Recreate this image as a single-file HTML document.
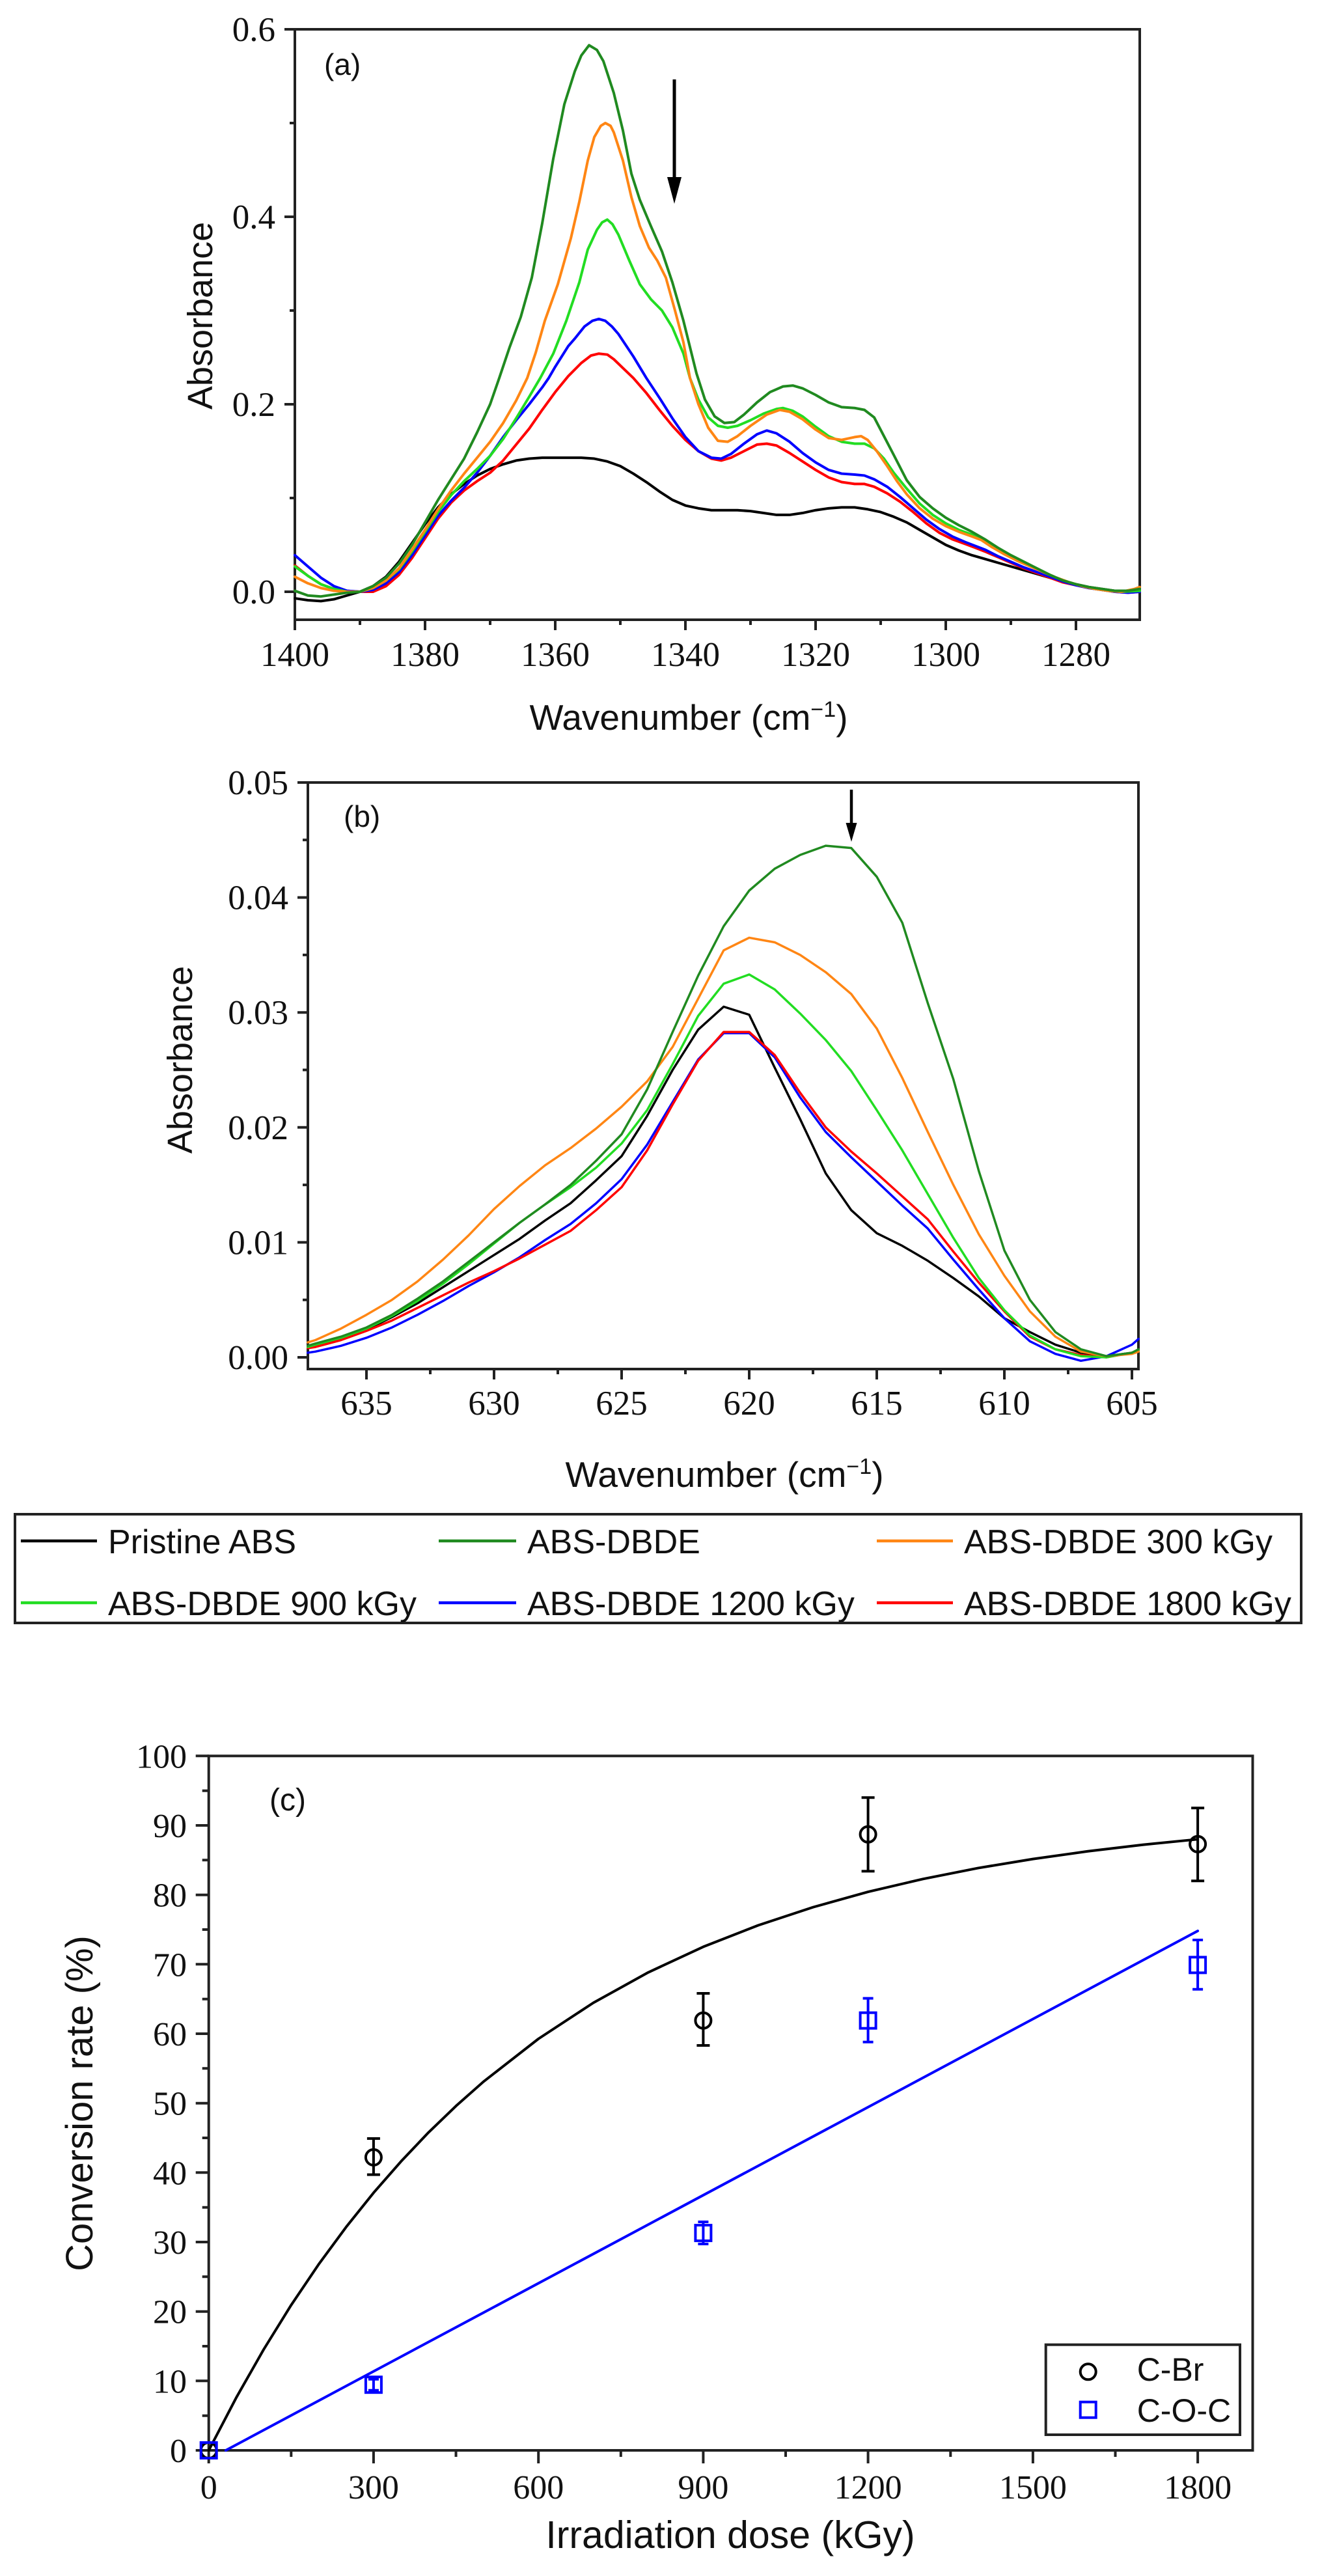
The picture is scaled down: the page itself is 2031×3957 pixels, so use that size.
<!DOCTYPE html>
<html><head><meta charset="utf-8"><style>html,body{margin:0;padding:0;background:#fff}svg{display:block}</style></head>
<body>
<svg width="2031" height="3957" viewBox="0 0 2031 3957" xmlns="http://www.w3.org/2000/svg">
<rect width="2031" height="3957" fill="#fff"/>
<defs><style>
.c{fill:none;stroke-width:4;stroke-linejoin:round;stroke-linecap:round;vector-effect:non-scaling-stroke}
.t{font-family:"Liberation Serif",serif;font-size:53px;fill:#111}
.s{font-family:"Liberation Sans",Arial,sans-serif;fill:#111}
</style></defs>

<!-- ================= Panel (a) ================= -->
<g stroke="#222" stroke-width="4" fill="none">
<rect x="453" y="45" width="1298" height="907"/>
<path d="M437,909H453M437,621H453M437,333H453M437,45H453M445,765H453M445,477H453M445,189H453
M453,952V968M653,952V968M853,952V968M1053,952V968M1253,952V968M1453,952V968M1653,952V968
M553,952V960M753,952V960M953,952V960M1153,952V960M1353,952V960M1553,952V960"/>
</g>
<g class="t" text-anchor="end">
<text x="423" y="63">0.6</text><text x="423" y="351">0.4</text><text x="423" y="639">0.2</text><text x="423" y="927">0.0</text>
</g>
<g class="t" text-anchor="middle">
<text x="453" y="1023">1400</text><text x="653" y="1023">1380</text><text x="853" y="1023">1360</text><text x="1053" y="1023">1340</text><text x="1253" y="1023">1320</text><text x="1453" y="1023">1300</text><text x="1653" y="1023">1280</text>
</g>
<text class="s" font-size="54" text-anchor="middle" transform="translate(326,485) rotate(-90)">Absorbance</text>
<text class="s" font-size="55" text-anchor="middle" x="1058" y="1121">Wavenumber (cm<tspan font-size="34" dy="-20">−1</tspan><tspan dy="20">)</tspan></text>
<text class="s" font-size="46" x="498" y="115">(a)</text>
<path d="M1036,122V276" stroke="#000" stroke-width="5"/>
<path d="M1025,272H1047L1036,313Z" fill="#000"/>

<g transform="translate(14453,909) scale(-10,-1440)">
<polyline class="c" stroke="#000" points="1400,-0.007 1398,-0.009 1396,-0.010 1394,-0.008 1392,-0.004 1390,0 1388,0.006 1386,0.016 1384,0.032 1382,0.052 1380,0.072 1378,0.090 1376,0.104 1374,0.115 1372,0.124 1370,0.131 1368,0.136 1366,0.140 1364,0.142 1362,0.143 1360,0.143 1358,0.143 1356,0.143 1354,0.142 1352,0.139 1350,0.134 1348,0.126 1346,0.117 1344,0.107 1342,0.098 1340,0.092 1338,0.089 1336,0.087 1334,0.087 1332,0.087 1330,0.086 1328,0.084 1326,0.082 1324,0.082 1322,0.084 1320,0.087 1318,0.089 1316,0.090 1314,0.090 1312,0.088 1310,0.085 1308,0.080 1306,0.074 1304,0.066 1302,0.058 1300,0.050 1298,0.044 1296,0.039 1294,0.035 1292,0.031 1290,0.027 1288,0.023 1286,0.019 1284,0.015 1282,0.011 1280,0.008 1278,0.005 1276,0.003 1274,0.001 1272,0 1270.2,0.001"/>
<polyline class="c" stroke="#ff0000" points="1400,0.028 1398,0.017 1396,0.008 1394,0.003 1392,0.001 1390,0 1388,0 1386,0.006 1384,0.018 1382,0.036 1380,0.057 1378,0.078 1376,0.095 1374,0.108 1372,0.118 1370,0.127 1368,0.140 1366,0.157 1364,0.174 1362,0.194 1360,0.213 1358,0.230 1356,0.244 1354.5,0.252 1353.3,0.254 1352,0.253 1351,0.248 1349.5,0.238 1348,0.228 1346,0.212 1344,0.194 1342,0.177 1340,0.162 1338,0.150 1336,0.142 1334.5,0.140 1333,0.143 1331,0.150 1329,0.157 1327.5,0.158 1326,0.156 1324,0.148 1322,0.139 1320,0.130 1318,0.122 1316,0.117 1314,0.115 1312.5,0.115 1311,0.112 1309,0.105 1307,0.096 1305,0.085 1303,0.073 1301,0.063 1299,0.056 1297,0.051 1295.5,0.047 1294,0.043 1292,0.037 1290,0.031 1288,0.025 1286,0.020 1284,0.015 1282,0.010 1280,0.007 1278,0.004 1276,0.002 1274,0 1272,-0.001 1270.2,0"/>
<polyline class="c" stroke="#0000ff" points="1400,0.039 1398,0.027 1396,0.015 1394,0.006 1392,0.001 1390,0 1388,0.002 1386,0.009 1384,0.021 1382,0.039 1380,0.060 1378,0.081 1376,0.097 1374,0.111 1372,0.127 1370,0.145 1368,0.165 1366,0.183 1364,0.200 1362,0.218 1361,0.228 1360,0.240 1358,0.262 1357,0.270 1355.5,0.283 1354.3,0.289 1353.3,0.291 1352.3,0.289 1351.3,0.283 1350.3,0.275 1348,0.251 1346,0.228 1344,0.207 1342,0.185 1340,0.165 1338,0.150 1336,0.143 1334.5,0.142 1333,0.147 1331,0.158 1329,0.168 1327.5,0.172 1326,0.169 1324,0.160 1322,0.148 1320,0.138 1318,0.130 1316,0.126 1314,0.125 1312.5,0.124 1311,0.120 1309,0.112 1307,0.101 1305,0.089 1303,0.077 1301,0.067 1299,0.059 1297,0.053 1295.5,0.049 1294,0.045 1292,0.038 1290,0.032 1288,0.026 1286,0.021 1284,0.016 1282,0.011 1280,0.007 1278,0.004 1276,0.002 1274,0 1272,-0.001 1270.2,0"/>
<polyline class="c" stroke="#22dd22" points="1400,0.027 1398,0.017 1396,0.008 1394,0.003 1392,0 1390,0 1388,0.004 1386,0.012 1384,0.024 1382,0.043 1380,0.064 1378,0.085 1376,0.103 1374,0.118 1372,0.131 1370,0.145 1368,0.163 1366,0.185 1364,0.208 1362.3,0.228 1360.3,0.254 1358.3,0.289 1356.3,0.330 1355,0.365 1353.6,0.386 1352.8,0.394 1352,0.397 1351.2,0.392 1350.3,0.381 1348.6,0.353 1347,0.328 1345.3,0.312 1343.6,0.300 1342,0.282 1340.3,0.254 1339.3,0.228 1338,0.205 1336.5,0.186 1335,0.177 1333.5,0.175 1332,0.177 1330,0.183 1328,0.190 1326,0.195 1325,0.196 1323.5,0.193 1322,0.187 1320,0.176 1318,0.166 1316,0.160 1314,0.158 1312.5,0.158 1311,0.153 1309.5,0.142 1308,0.127 1306,0.110 1304,0.094 1302,0.082 1300,0.073 1298,0.066 1296,0.061 1294.5,0.057 1293,0.050 1291,0.042 1289,0.035 1287,0.028 1285,0.021 1283,0.015 1281,0.010 1279,0.006 1277,0.003 1275,0.001 1273,0 1270.2,0.001"/>
<polyline class="c" stroke="#ff8614" points="1400,0.016 1398,0.009 1396,0.004 1394,0.001 1392,0 1390,0 1388,0.004 1386,0.012 1384,0.025 1382,0.045 1380,0.066 1378,0.088 1376,0.108 1374,0.126 1372,0.143 1370,0.160 1368,0.180 1366,0.204 1364.3,0.228 1363,0.255 1361.6,0.289 1359.6,0.328 1357.6,0.377 1356.3,0.416 1355,0.460 1354,0.485 1353,0.497 1352.3,0.500 1351.5,0.497 1351,0.490 1349.6,0.460 1348.3,0.421 1347,0.390 1345.6,0.367 1344.3,0.353 1343,0.335 1341.6,0.300 1340.3,0.266 1339.3,0.228 1338,0.200 1336.5,0.175 1335,0.161 1333.5,0.160 1332,0.166 1330,0.177 1327.5,0.189 1325.5,0.194 1324,0.192 1322,0.184 1320,0.173 1318,0.164 1316,0.162 1314,0.165 1313,0.166 1312,0.162 1310.6,0.150 1309,0.134 1307.5,0.118 1306,0.104 1304,0.089 1302,0.078 1300,0.070 1298,0.064 1296,0.059 1294.5,0.055 1293,0.048 1291,0.040 1289,0.033 1287,0.027 1285,0.021 1283,0.015 1281,0.010 1279,0.006 1277,0.003 1275,0.001 1273,0 1271,0.003 1270.2,0.005"/>
<polyline class="c" stroke="#208a20" points="1400,0.001 1398,-0.004 1396,-0.005 1394,-0.003 1392,-0.001 1390,0 1388,0.006 1386,0.015 1384,0.030 1382,0.050 1380,0.074 1378,0.098 1376,0.120 1374,0.142 1372,0.170 1370,0.200 1368.6,0.228 1367,0.261 1365.3,0.293 1363.6,0.335 1362,0.393 1360.3,0.462 1358.6,0.520 1357,0.555 1356,0.572 1354.8,0.583 1353.6,0.578 1352.6,0.566 1351,0.532 1349.6,0.492 1348.3,0.446 1347,0.418 1345.3,0.390 1343.6,0.363 1342,0.330 1340.3,0.289 1338.3,0.233 1337,0.205 1335.5,0.187 1334,0.180 1332.5,0.181 1331,0.189 1329,0.202 1327,0.213 1325,0.219 1323.5,0.220 1322,0.217 1320,0.210 1318,0.202 1316,0.197 1314,0.196 1312.5,0.194 1311,0.186 1309.5,0.166 1308,0.146 1306,0.119 1304,0.101 1302,0.089 1300,0.079 1298,0.071 1296,0.064 1294,0.056 1292,0.047 1290,0.039 1288,0.032 1286,0.025 1284,0.018 1282,0.012 1280,0.008 1278,0.005 1276,0.003 1274,0.001 1272,0.001 1270.2,0.003"/>
</g>

<!-- ================= Panel (b) ================= -->
<g stroke="#222" stroke-width="4" fill="none">
<rect x="473" y="1202" width="1276" height="901"/>
<path d="M457,2085H473M457,1908.4H473M457,1731.8H473M457,1555.2H473M457,1378.6H473M457,1202H473
M465,1996.7H473M465,1820.1H473M465,1643.5H473M465,1466.9H473M465,1290.3H473
M563,2103V2119M759,2103V2119M955,2103V2119M1151,2103V2119M1347,2103V2119M1543,2103V2119M1739,2103V2119
M661,2103V2111M857,2103V2111M1053,2103V2111M1249,2103V2111M1445,2103V2111M1641,2103V2111"/>
</g>
<g class="t" text-anchor="end">
<text x="443" y="2103">0.00</text><text x="443" y="1926.4">0.01</text><text x="443" y="1749.8">0.02</text><text x="443" y="1573.2">0.03</text><text x="443" y="1396.6">0.04</text><text x="443" y="1220">0.05</text>
</g>
<g class="t" text-anchor="middle">
<text x="563" y="2173">635</text><text x="759" y="2173">630</text><text x="955" y="2173">625</text><text x="1151" y="2173">620</text><text x="1347" y="2173">615</text><text x="1543" y="2173">610</text><text x="1739" y="2173">605</text>
</g>
<text class="s" font-size="54" text-anchor="middle" transform="translate(295,1628) rotate(-90)">Absorbance</text>
<text class="s" font-size="55" text-anchor="middle" x="1113" y="2284">Wavenumber (cm<tspan font-size="34" dy="-20">−1</tspan><tspan dy="20">)</tspan></text>
<text class="s" font-size="46" x="528" y="1270">(b)</text>
<path d="M1308,1213V1268" stroke="#000" stroke-width="4.5"/>
<path d="M1299.5,1264H1316.5L1308,1293Z" fill="#000"/>

<g transform="translate(25455,2085) scale(-39.2,-17660)">
<polyline class="c" stroke="#000" style="stroke-width:3.5" points="637.3,0.0009 637,0.0010 636,0.0016 635,0.0024 634,0.0035 633,0.0047 632,0.0061 631,0.0075 630,0.0089 629,0.0103 628,0.0119 627,0.0134 626,0.0154 625,0.0175 624,0.0210 623,0.0250 622,0.0285 621,0.0305 620,0.0298 619,0.0252 618,0.0207 617,0.0160 616,0.0128 615,0.0108 614,0.0097 613,0.0084 612,0.0069 611,0.0053 610,0.0034 609,0.0022 608,0.0011 607,0.0004 606,0.0001 605,0.0004 604.74,0.0005"/>
<polyline class="c" stroke="#0000ff" style="stroke-width:3.5" points="637.3,0.0004 637,0.0005 636,0.0010 635,0.0017 634,0.0026 633,0.0037 632,0.0049 631,0.0062 630,0.0074 629,0.0087 628,0.0102 627,0.0116 626,0.0134 625,0.0155 624,0.0185 623,0.0222 622,0.0259 621,0.0282 620,0.0282 619,0.0261 618,0.0226 617,0.0196 616,0.0174 615,0.0153 614,0.0132 613,0.0112 612,0.0085 611,0.0059 610,0.0034 609,0.0014 608,0.0003 607,-0.0003 606,0.0001 605,0.0011 604.74,0.0016"/>
<polyline class="c" stroke="#ff0000" style="stroke-width:3.5" points="637.3,0.0008 637,0.0009 636,0.0015 635,0.0023 634,0.0032 633,0.0043 632,0.0054 631,0.0065 630,0.0075 629,0.0086 628,0.0098 627,0.0110 626,0.0128 625,0.0148 624,0.0180 623,0.0220 622,0.0258 621,0.0283 620,0.0283 619,0.0263 618,0.0230 617,0.0200 616,0.0179 615,0.0160 614,0.0140 613,0.0120 612,0.0092 611,0.0065 610,0.0040 609,0.0018 608,0.0007 607,0.0002 606,0 605,0.0004 604.74,0.0006"/>
<polyline class="c" stroke="#22dd22" style="stroke-width:3.5" points="637.3,0.0009 637,0.0011 636,0.0017 635,0.0025 634,0.0036 633,0.0049 632,0.0064 631,0.0081 630,0.0099 629,0.0117 628,0.0133 627,0.0148 626,0.0165 625,0.0186 624,0.0215 623,0.0255 622,0.0297 621,0.0325 620,0.0333 619,0.0320 618,0.0299 617,0.0276 616,0.0249 615,0.0215 614,0.0180 613,0.0142 612,0.0104 611,0.0069 610,0.0041 609,0.0019 608,0.0007 607,0.0001 606,0 605,0.0004 604.74,0.0006"/>
<polyline class="c" stroke="#ff8614" style="stroke-width:3.5" points="637.3,0.0013 637,0.0015 636,0.0025 635,0.0037 634,0.0050 633,0.0066 632,0.0085 631,0.0106 630,0.0129 629,0.0149 628,0.0167 627,0.0182 626,0.0199 625,0.0218 624,0.0240 623,0.0270 622,0.0312 621,0.0354 620,0.0365 619,0.0361 618,0.0350 617,0.0335 616,0.0316 615,0.0286 614,0.0243 613,0.0196 612,0.0150 611,0.0107 610,0.0071 609,0.0040 608,0.0018 607,0.0005 606,0.0001 605,0.0003 604.74,0.0005"/>
<polyline class="c" stroke="#208a20" style="stroke-width:3.5" points="637.3,0.0010 637,0.0012 636,0.0018 635,0.0026 634,0.0037 633,0.0051 632,0.0066 631,0.0083 630,0.0100 629,0.0117 628,0.0133 627,0.0150 626,0.0171 625,0.0194 624,0.0233 623,0.0283 622,0.0332 621,0.0375 620,0.0406 619,0.0425 618,0.0437 617,0.0445 616,0.0443 615,0.0418 614,0.0378 613,0.0308 612,0.0242 611,0.0162 610,0.0093 609,0.0050 608,0.0022 607,0.0007 606,0.0001 605,0.0004 604.74,0.0007"/>
</g>

<!-- ================= Legend ================= -->
<rect x="23" y="2326" width="1976" height="167" fill="none" stroke="#222" stroke-width="4"/>
<g stroke-width="4.5">
<path d="M32,2367H149" stroke="#000"/>
<path d="M674,2367H793" stroke="#208a20"/>
<path d="M1347,2367H1464" stroke="#ff8614"/>
<path d="M32,2462H149" stroke="#22dd22"/>
<path d="M674,2462H793" stroke="#0000ff"/>
<path d="M1347,2462H1464" stroke="#ff0000"/>
</g>
<g class="s" font-size="52">
<text x="166" y="2386">Pristine ABS</text>
<text x="810" y="2386">ABS-DBDE</text>
<text x="1481" y="2386">ABS-DBDE 300 kGy</text>
<text x="166" y="2481">ABS-DBDE 900 kGy</text>
<text x="810" y="2481">ABS-DBDE 1200 kGy</text>
<text x="1481" y="2481">ABS-DBDE 1800 kGy</text>
</g>

<!-- ================= Panel (c) ================= -->
<g stroke="#222" stroke-width="4" fill="none">
<rect x="320.7" y="2697.3" width="1603.8" height="1066.7"/>
<path d="M300.7,3764H320.7M300.7,3657.3H320.7M300.7,3550.7H320.7M300.7,3444H320.7M300.7,3337.3H320.7M300.7,3230.7H320.7M300.7,3124H320.7M300.7,3017.3H320.7M300.7,2910.7H320.7M300.7,2804H320.7M300.7,2697.3H320.7
M310.7,3710.7H320.7M310.7,3604H320.7M310.7,3497.3H320.7M310.7,3390.7H320.7M310.7,3284H320.7M310.7,3177.3H320.7M310.7,3070.7H320.7M310.7,2964H320.7M310.7,2857.3H320.7M310.7,2750.7H320.7
M320.7,3764V3784M573.9,3764V3784M827.2,3764V3784M1080.4,3764V3784M1333.6,3764V3784M1586.9,3764V3784M1840.1,3764V3784
M447.3,3764V3774M700.5,3764V3774M953.8,3764V3774M1207,3764V3774M1460.3,3764V3774M1713.5,3764V3774"/>
</g>
<g class="t" text-anchor="end" style="font-size:52px">
<text x="287" y="3782">0</text><text x="287" y="3675.3">10</text><text x="287" y="3568.7">20</text><text x="287" y="3462">30</text><text x="287" y="3355.3">40</text><text x="287" y="3248.7">50</text><text x="287" y="3142">60</text><text x="287" y="3035.3">70</text><text x="287" y="2928.7">80</text><text x="287" y="2822">90</text><text x="287" y="2715.3">100</text>
</g>
<g class="t" text-anchor="middle" style="font-size:52px">
<text x="320.7" y="3838">0</text><text x="573.9" y="3838">300</text><text x="827.2" y="3838">600</text><text x="1080.4" y="3838">900</text><text x="1333.6" y="3838">1200</text><text x="1586.9" y="3838">1500</text><text x="1840.1" y="3838">1800</text>
</g>
<text class="s" font-size="58" text-anchor="middle" transform="translate(142,3231) rotate(-90)">Conversion rate (%)</text>
<text class="s" font-size="59" text-anchor="middle" x="1122" y="3914">Irradiation dose (kGy)</text>
<text class="s" font-size="48" x="414" y="2781">(c)</text>

<g transform="translate(320.7,3764) scale(0.8441,-10.667)">
<polyline class="c" stroke="#000" points="0,0 50,7.58 100,14.53 150,20.92 200,26.78 250,32.15 300,37.09 350,41.61 400,45.78 450,49.59 500,53.09 600,59.26 700,64.45 800,68.83 900,72.51 1000,75.61 1100,78.22 1200,80.43 1300,82.28 1400,83.85 1500,85.16 1600,86.27 1700,87.21 1800,88.0"/>
<polyline class="c" stroke="#0000ff" points="31,0 1800,74.8"/>
</g>

<!-- error bars + markers C-Br -->
<g stroke="#000" stroke-width="4" fill="none">
<path d="M573.9,3285V3340.5M563.9,3285H583.9M563.9,3340.5H583.9"/>
<path d="M1080.4,3062V3142M1070.4,3062H1090.4M1070.4,3142H1090.4"/>
<path d="M1333.6,2761.3V2874.4M1323.6,2761.3H1343.6M1323.6,2874.4H1343.6"/>
<path d="M1840.1,2777.3V2889.3M1830.1,2777.3H1850.1M1830.1,2889.3H1850.1"/>
<circle cx="320.7" cy="3764" r="12"/>
<circle cx="573.9" cy="3313.9" r="12"/>
<circle cx="1080.4" cy="3103.7" r="12"/>
<circle cx="1333.6" cy="2817.8" r="12"/>
<circle cx="1840.1" cy="2832.8" r="12"/>
</g>
<!-- error bars + markers C-O-C -->
<g stroke="#0000ff" stroke-width="4" fill="none">
<path d="M573.9,3654.7V3671.7M565.9,3654.7H581.9M565.9,3671.7H581.9"/>
<path d="M1080.4,3413V3447M1072.4,3413H1088.4M1072.4,3447H1088.4"/>
<path d="M1333.6,3069.6V3136.8M1325.6,3069.6H1341.6M1325.6,3136.8H1341.6"/>
<path d="M1840.1,2980V3055.7M1832.1,2980H1848.1M1832.1,3055.7H1848.1"/>
<rect x="308.7" y="3752" width="24" height="24"/>
<rect x="561.9" y="3651.2" width="24" height="24"/>
<rect x="1068.4" y="3418.1" width="24" height="24"/>
<rect x="1321.6" y="3091.7" width="24" height="24"/>
<rect x="1828.1" y="3006.4" width="24" height="24"/>
</g>

<!-- legend (c) -->
<rect x="1606.7" y="3601.7" width="298.3" height="138.3" fill="#fff" stroke="#222" stroke-width="4"/>
<circle cx="1671.7" cy="3643.3" r="12" fill="none" stroke="#000" stroke-width="4"/>
<rect x="1659.7" y="3689.7" width="24" height="24" fill="none" stroke="#0000ff" stroke-width="4"/>
<g class="s" font-size="50">
<text x="1746.7" y="3657">C-Br</text>
<text x="1746.7" y="3720">C-O-C</text>
</g>
</svg>
</body></html>
